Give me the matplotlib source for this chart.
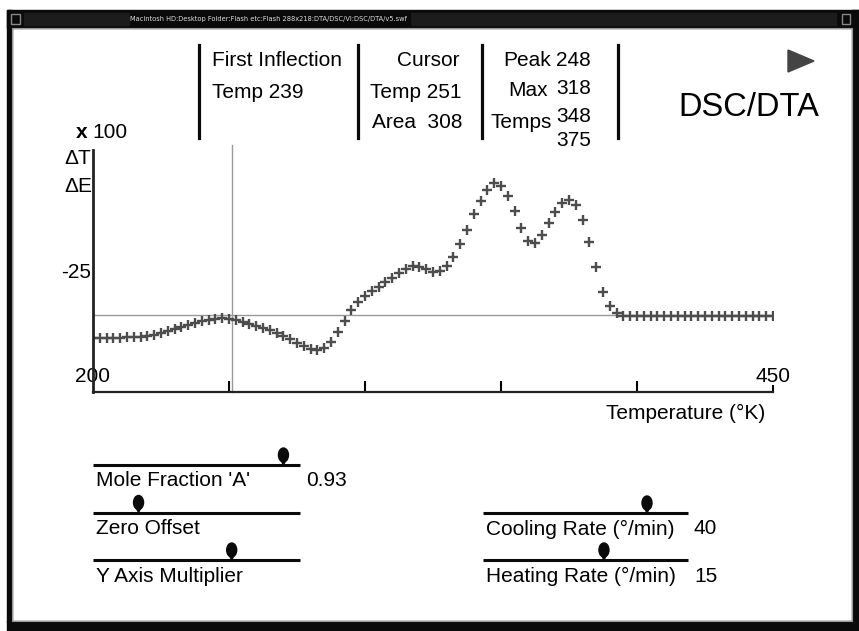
import matplotlib
matplotlib.use('Agg')
from matplotlib import pyplot as plt
from matplotlib import patches
import numpy as np

plt.rcParams['font.family'] = ['Liberation Sans', 'DejaVu Sans']

# temperature grid (K) and signal (arbitrary units)
temps = np.arange(200, 450.1, 2.5)
signal = [-23, -23, -23, -23, -23, -22, -22, -22, -21, -20,
          -18, -16, -14, -12, -10, -8, -6, -4.5, -3.5, -3,
          -3.5, -5, -7, -9, -11, -13, -15, -18, -21, -24,
          -28, -31, -34, -35, -33, -27, -17, -6, 5, 13,
          19, 24, 28, 33, 37, 42, 46, 49, 48, 46,
          43, 44, 49, 58, 71, 85, 101, 114, 125, 132,
          129, 119, 104, 87, 74, 72, 80, 92, 103, 112,
          115, 110, 95, 73, 48, 23, 9, 2] + [-1] * 23
cursor_temp = 251
x_ticks = [250, 300, 350, 400]

headers = ['First Inflection', 'Cursor', 'Peak']
first_inflection = 239
cursor_area = 308
peak_temp = 248
max_temps = [318, 348, 375]

left_sliders = ["Mole Fraction 'A'", 'Zero Offset', 'Y Axis Multiplier']
left_knobs = [0.92, 0.22, 0.67]
left_values = ['0.93', '', '']
right_sliders = ['Cooling Rate (°/min)', 'Heating Rate (°/min)']
right_knobs = [0.80, 0.59]
right_values = ['40', '15']

W, H = 859, 631
fig = plt.figure(figsize=(W / 100, H / 100), dpi=100)

# overlay in pixel coords for the window chrome and the panel texts
ov = fig.add_axes([0, 0, 1, 1])
ov.set_xlim(0, W)
ov.set_ylim(H, 0)
ov.axis('off')

black = '#0a0a0a'
ov.add_patch(patches.Rectangle((7, 10), W - 7, 18, color=black))
ov.add_patch(patches.Rectangle((7, 10), 5, 612, color=black))
ov.add_patch(patches.Rectangle((852, 10), 7, 612, color=black))
ov.add_patch(patches.Rectangle((7, 621), W - 7, 10, color=black))
ov.add_patch(patches.Rectangle((12, 28), 840, 593, fill=False, ec='#999', lw=0.8))
ov.add_patch(patches.Rectangle((24, 13), 812, 12, color='#1c1c1c'))
ov.add_patch(patches.Rectangle((130, 12), 280, 14, color=black))
ov.add_patch(patches.Rectangle((11, 14), 9, 10, fill=False, ec='#888', lw=1))
ov.add_patch(patches.Rectangle((842, 14), 8, 10, fill=False, ec='#888', lw=1))
ov.text(268, 19, 'Macintosh HD:Desktop Folder:Flash etc:Flash 288x218:DTA/DSC/VI:DSC/DTA/v5.swf',
        color='#ddd', fontsize=5.3, ha='center', va='center', family='DejaVu Sans',
        fontstretch='condensed')

fs = 15
for x in [199, 358, 482, 618]:
    ov.plot([x, x], [45, 138], color=black, lw=2.3)
ov.text(212, 61, headers[0], fontsize=fs, va='center')
ov.text(212, 93, f'Temp {first_inflection}', fontsize=fs, va='center')
ov.text(459, 61, headers[1], fontsize=fs, va='center', ha='right')
ov.text(462, 93, f'Temp {cursor_temp}', fontsize=fs, va='center', ha='right')
ov.text(462, 122, f'Area  {cursor_area}', fontsize=fs, va='center', ha='right')
ov.text(551, 61, headers[2], fontsize=fs, va='center', ha='right')
ov.text(548, 91, 'Max', fontsize=fs, va='center', ha='right')
ov.text(552, 123, 'Temps', fontsize=fs, va='center', ha='right')
ov.text(556, 61, str(peak_temp), fontsize=fs, va='center')
for y, t in zip([88, 116, 140], max_temps):
    ov.text(556, y, str(t), fontsize=fs, va='center')

ov.add_patch(patches.Polygon([[788, 50], [788, 72], [814, 61]], color='#444'))
ov.text(819, 108, 'DSC/DTA', fontsize=23.5, va='center', ha='right')

ov.text(76, 132, 'x', fontsize=15, fontweight='bold', va='center')
ov.text(92, 132, '100', fontsize=fs, va='center')
ov.text(64, 158, 'ΔT', fontsize=fs, va='center')
ov.text(64, 187, 'ΔE', fontsize=fs, va='center')
ov.text(61, 272, '-25', fontsize=fs, va='center')
ov.text(75, 377, '200', fontsize=fs, va='center')
ov.text(790, 377, '450', fontsize=fs, va='center', ha='right')
ov.text(765, 413, 'Temperature (°K)', fontsize=fs, va='center', ha='right')


def slider(x0, x1, y, frac, label, value):
    ov.plot([x0, x1], [y, y], color=black, lw=2.2, solid_capstyle='butt')
    kx = x0 + frac * (x1 - x0)
    ov.add_patch(patches.Ellipse((kx, y - 10), 10, 14, color=black))
    ov.add_patch(patches.Polygon([[kx - 3, y - 6], [kx + 3, y - 6], [kx, y]], color=black))
    ov.text(x0 + 3, y + 16, label, fontsize=fs, va='center')
    if value:
        ov.text(x1 + 6, y + 16, value, fontsize=fs, va='center')


for i, (lab, k, v) in enumerate(zip(left_sliders, left_knobs, left_values)):
    slider(93, 300, 465 + i * 47.5, k, lab, v)
for i, (lab, k, v) in enumerate(zip(right_sliders, right_knobs, right_values)):
    slider(483, 688, 513 + i * 47, k, lab, v)

# the trace itself
ax = fig.add_axes([93 / W, (H - 392) / H, 680 / W, 242 / H])
ax.patch.set_alpha(0)
ax.plot(temps, signal, '+', color='#4d4d4d', ms=7.5, mew=1.7)
ax.axhline(0, color='#999', lw=1, zorder=0)
ax.axvline(cursor_temp, ymax=1.02, color='#999', lw=1, clip_on=False, zorder=0)
ax.set_xlim(200, 450)
ax.set_ylim(-77, 165)
for s in ['top', 'right']:
    ax.spines[s].set_visible(False)
ax.spines['left'].set_linewidth(2)
ax.spines['bottom'].set_linewidth(1.6)
ax.spines['left'].set_color('#222')
ax.spines['bottom'].set_color('#222')
ax.set_xticks(x_ticks)
ax.set_xticks([450], minor=True)
ax.tick_params(axis='x', which='major', direction='in', length=8, width=1.5, labelbottom=False)
ax.tick_params(axis='x', which='minor', direction='in', length=5, width=1.5)
ax.set_yticks([])

fig.savefig('out.png', dpi=100)
